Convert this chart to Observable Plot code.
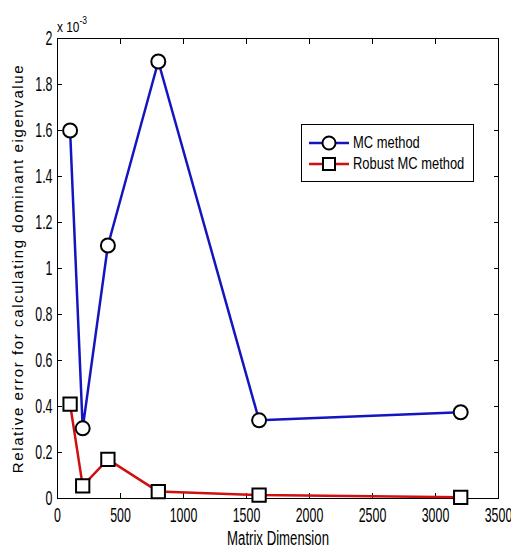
<!DOCTYPE html>
<html><head><meta charset="utf-8">
<script src="https://cdn.jsdelivr.net/npm/d3@7"></script>
<script src="https://cdn.jsdelivr.net/npm/@observablehq/plot@0.6"></script>
<style>
body{margin:0;background:#fff;}
#wrap{position:relative;width:511px;height:551px;background:#fff;font-family:"Liberation Sans",Arial,sans-serif;}
#expo{position:absolute;left:57px;top:17px;font-size:14px;transform:scaleX(0.85);transform-origin:left;white-space:nowrap;}
#expo sup{font-size:10px;position:relative;top:-2px}
#legend{position:absolute;left:301px;top:124px;width:171px;height:56px;border:1px solid #000;background:#fff;font-size:17px;white-space:nowrap;}
.row{position:absolute;left:7px;height:20px;display:flex;align-items:center;}
.row span{display:inline-block;margin-left:4px;transform:scaleX(0.76);transform-origin:left;}
</style>
</head><body>
<div id="wrap"></div>
<script>
const dims = [100, 200, 400, 800, 1600, 3200];
const mcErr = [1.6e-3, 0.305e-3, 1.1e-3, 1.9e-3, 0.34e-3, 0.375e-3];
const robustErr = [0.41e-3, 0.055e-3, 0.17e-3, 0.03e-3, 0.015e-3, 0.005e-3];
const seriesNames = ["MC method", "Robust MC method"];
const seriesColors = ["#1515c0", "#d01010"];
const xTicks = [0, 500, 1000, 1500, 2000, 2500, 3000, 3500];
const yTicks = [0, 0.2e-3, 0.4e-3, 0.6e-3, 0.8e-3, 1.0e-3, 1.2e-3, 1.4e-3, 1.6e-3, 1.8e-3, 2.0e-3];
const xLabel = "Matrix Dimension";
const yLabel = "Relative error for calculating dominant eigenvalue";

const mc = dims.map((d, i) => ({x: d, y: mcErr[i]}));
const rb = dims.map((d, i) => ({x: d, y: robustErr[i]}));
const fmtY = v => String(+(v * 1000).toFixed(1));
const font = '"Liberation Sans",Arial,sans-serif';

const chart = Plot.plot({
  width: 511, height: 551,
  marginLeft: 57, marginRight: 13, marginTop: 38, marginBottom: 53,
  style: {fontFamily: font, fontSize: "20px", background: "#fff", color: "#000"},
  x: {domain: [0, 3500]},
  y: {domain: [0, 2e-3]},
  marks: [
    Plot.axisX({anchor: "bottom", ticks: xTicks, tickSize: 0, tickPadding: 9, tickFormat: d => String(d), label: null, fontSize: 20, className: "sq"}),
    Plot.axisX({anchor: "bottom", ticks: xTicks, tickSize: -5, tickFormat: () => "", label: null}),
    Plot.axisX({anchor: "top", ticks: xTicks, tickSize: -5, tickFormat: () => "", label: null}),
    Plot.axisY({anchor: "left", ticks: yTicks, tickSize: 0, tickPadding: 5, tickFormat: fmtY, label: null, fontSize: 20, className: "sq"}),
    Plot.axisY({anchor: "left", ticks: yTicks, tickSize: -5, tickFormat: () => "", label: null}),
    Plot.axisY({anchor: "right", ticks: yTicks, tickSize: -5, tickFormat: () => "", label: null}),
    Plot.frame({stroke: "#000", strokeWidth: 1}),
    Plot.line(mc, {x: "x", y: "y", stroke: seriesColors[0], strokeWidth: 2.5}),
    Plot.line(rb, {x: "x", y: "y", stroke: seriesColors[1], strokeWidth: 2.5}),
    Plot.dot(mc, {x: "x", y: "y", r: 7, fill: "#fff", stroke: "#000", strokeWidth: 2}),
    Plot.dot(rb, {x: "x", y: "y", r: 7.5, symbol: "square", fill: "#fff", stroke: "#000", strokeWidth: 2}),
    Plot.text([xLabel], {frameAnchor: "bottom", dy: 46, text: d => d, fontSize: 20, className: "sqlabel"}),
    Plot.text([yLabel], {frameAnchor: "left", dx: -39, rotate: -90, textAnchor: "middle", text: d => d, fontSize: 15})
  ]
});
const wrap = document.getElementById("wrap");
wrap.appendChild(chart);

const done = new Set();
function squeeze(el, sx) {
  if (done.has(el)) return;
  done.add(el);
  let t = el.getAttribute("transform") || "";
  const x = el.getAttribute("x");
  if (x != null && /^-?[\d.]+$/.test(x) && +x !== 0) {
    t += ` translate(${x},0)`;
    el.removeAttribute("x");
  }
  el.setAttribute("transform", t + ` scale(${sx},1)`);
}
d3.select(chart).selectAll(".sq text").each(function(){ if (this.textContent) squeeze(this, 0.62); });
d3.select(chart).selectAll(".sqlabel text").each(function(){ if (this.textContent) squeeze(this, 0.66); });
d3.select(chart).selectAll("text").filter(function(){return this.textContent===yLabel;}).style("letter-spacing","1.6px");

const expo = document.createElement("div");
expo.id = "expo";
expo.innerHTML = "x 10<sup>-3</sup>";
wrap.appendChild(expo);

const leg = document.createElement("div");
leg.id = "legend";
seriesNames.forEach((name, i) => {
  const row = document.createElement("div");
  row.className = "row";
  row.style.top = (8 + i * 21) + "px";
  const sym = i === 0
    ? `<circle cx="20" cy="10" r="6.5" fill="#fff" stroke="#000" stroke-width="2"/>`
    : `<rect x="14" y="4" width="12" height="12" fill="#fff" stroke="#000" stroke-width="2"/>`;
  row.innerHTML = `<svg width="40" height="20"><line x1="0" x2="40" y1="10" y2="10" stroke="${seriesColors[i]}" stroke-width="2.5"/>${sym}</svg><span>${name}</span>`;
  leg.appendChild(row);
});
wrap.appendChild(leg);
</script>
</body></html>
